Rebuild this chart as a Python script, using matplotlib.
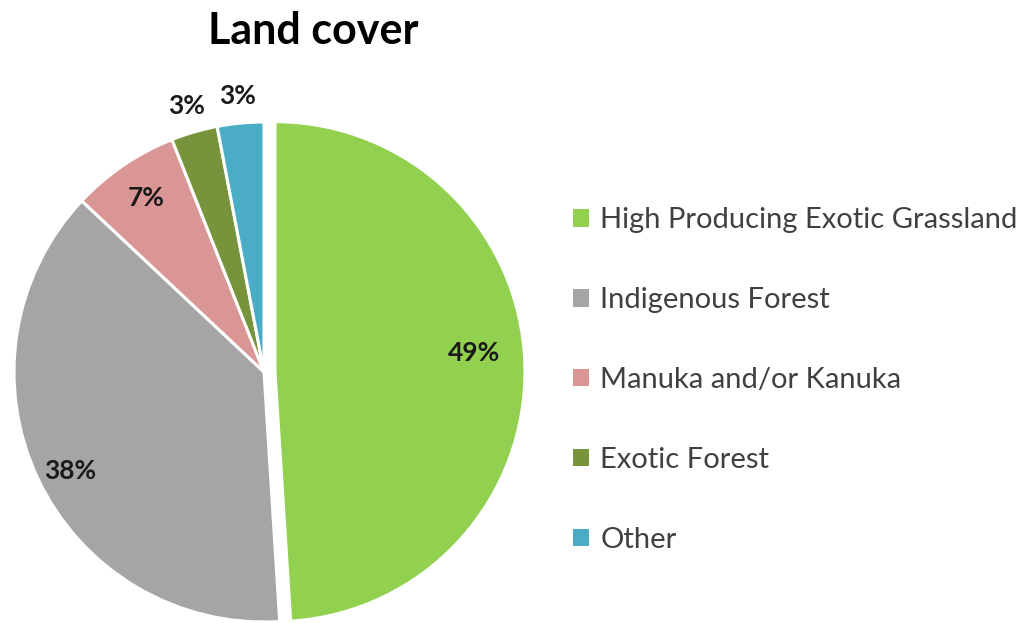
import matplotlib
matplotlib.use("Agg")
import matplotlib.pyplot as plt
import numpy as np

categories = ["High Producing Exotic Grassland", "Indigenous Forest",
              "Manuka and/or Kanuka", "Exotic Forest", "Other"]
values = [49, 38, 7, 3, 3]
colors = ["#92D050", "#A5A5A5", "#DA9694", "#77933C", "#4BACC6"]
explode = [0.044, 0, 0, 0, 0]
label_dist = [0.80, 0.87, 0.84, 1.11, 1.11]
label_dang = [3.5, 2.0, 0.0, 0.0, 0.0]
title = "Land cover"

plt.rcParams['font.family'] = ['Lato', 'DejaVu Sans']

W, H = 1027, 623
fig = plt.figure(figsize=(W / 100, H / 100), dpi=100)
cx, cy, r = 264, 372, 250
ax = fig.add_axes([(cx - r) / W, (H - cy - r) / H, 2 * r / W, 2 * r / H])

wedges, _ = ax.pie(values, colors=colors, explode=explode, startangle=90,
                   counterclock=False, radius=1,
                   wedgeprops=dict(edgecolor='white', linewidth=2.2))
ax.set_xlim(-1, 1)
ax.set_ylim(-1, 1)
ax.set_aspect('equal')
ax.axis('off')
for w in wedges:
    w.set_clip_on(False)

total = sum(values)
for w, v, d, e, da in zip(wedges, values, label_dist, explode, label_dang):
    ang = np.deg2rad((w.theta1 + w.theta2) / 2 + da)
    x = (d + e) * np.cos(ang)
    y = (d + e) * np.sin(ang)
    ax.text(x, y, f"{round(100 * v / total)}%", ha='center', va='center',
            fontsize=19, fontweight='bold', color='#1a1a1a', clip_on=False)

fig.text(313 / W, 1 - 31 / H, title, ha='center', va='center',
         fontsize=31, fontweight='bold', color='black')

leg = ax.legend(wedges, categories, loc='center left',
                bbox_to_anchor=(573 / W, 1 - 380 / H), bbox_transform=fig.transFigure,
                frameon=False, fontsize=21, handlelength=0.55, handleheight=0.55,
                handletextpad=0.38, labelspacing=1.85, borderpad=0, borderaxespad=0)
for t in leg.get_texts():
    t.set_color('#404040')
for h in leg.legend_handles:
    h.set_linewidth(0)

fig.savefig("out.png", dpi=100)
